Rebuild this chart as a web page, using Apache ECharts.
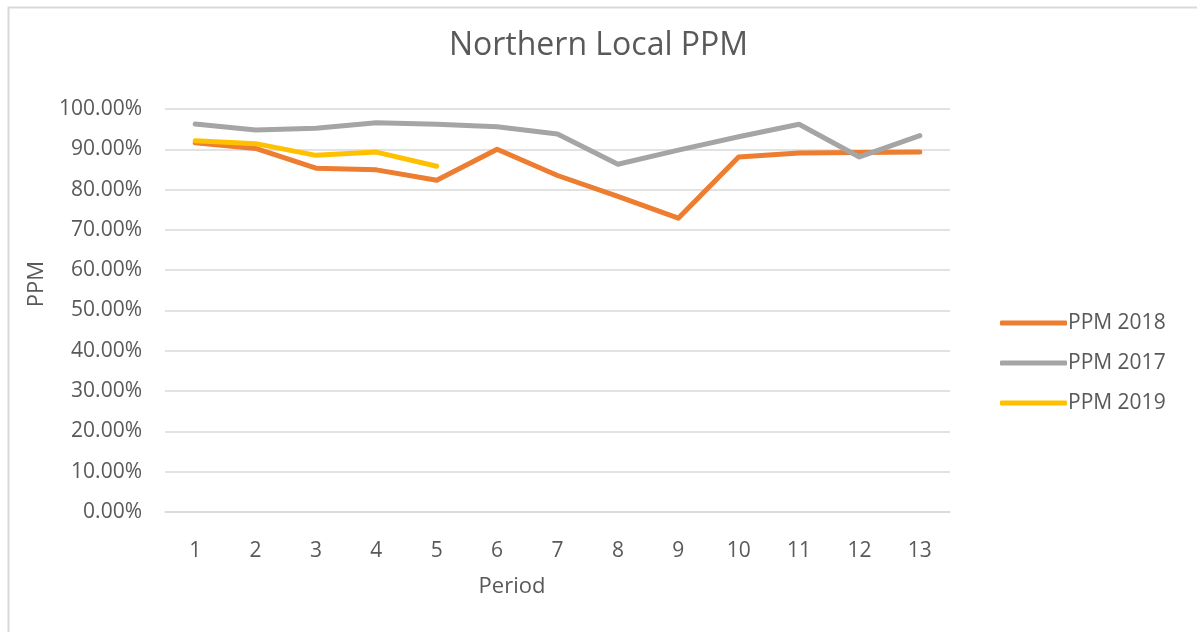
<!DOCTYPE html>
<html>
<head>
<meta charset="utf-8">
<script src="https://cdn.jsdelivr.net/npm/echarts@6/dist/echarts.min.js"></script>
<style>
html,body{margin:0;padding:0;background:#fff;}
#chart{width:1197px;height:632px;}
</style>
</head>
<body>
<div id="chart"></div>
<script>
const periods = ['1','2','3','4','5','6','7','8','9','10','11','12','13'];
const ppm2018 = [91.6, 90.2, 85.3, 84.9, 82.3, 90.0, 83.5, 78.3, 72.9, 88.1, 89.1, 89.2, 89.3];
const ppm2017 = [96.3, 94.8, 95.2, 96.6, 96.2, 95.6, 93.8, 86.3, 89.8, 93.1, 96.2, 88.1, 93.4];
const ppm2019 = [92.1, 91.4, 88.5, 89.3, 85.8];
const yTicks = [0, 10, 20, 30, 40, 50, 60, 70, 80, 90, 100];

const FONT = '"Open Sans", "Liberation Sans", sans-serif';
const TXT = '#595959';
const chart = echarts.init(document.getElementById('chart'), null, {renderer: 'canvas'});

function lineSeries(name, data, color) {
  return {
    name: name, type: 'line', data: data, showSymbol: false, symbol: 'none',
    lineStyle: {color: color, width: 5, cap: 'round', join: 'round'},
    itemStyle: {color: color}, animation: false
  };
}

chart.setOption({
  backgroundColor: '#fff',
  animation: false,
  textStyle: {fontFamily: FONT},
  graphic: [{
    type: 'rect', left: 6, top: 5, shape: {width: 1300, height: 800},
    style: {fill: 'none', stroke: '#d9d9d9', lineWidth: 2}, silent: true
  }, {
    type: 'text', x: 512, y: 587, silent: true,
    style: {text: 'Period', fontFamily: FONT, fontSize: 22, fill: TXT, align: 'center', verticalAlign: 'middle'}
  }, {
    type: 'text', x: 37, y: 284, rotation: Math.PI / 2, silent: true,
    style: {text: 'PPM', fontFamily: FONT, fontSize: 22, fill: TXT, align: 'center', verticalAlign: 'middle'}
  }],
  title: {
    text: 'Northern Local PPM', left: 'center', top: 25,
    textStyle: {fontFamily: FONT, fontSize: 32, fontWeight: 'normal', color: TXT}
  },
  legend: {
    orient: 'vertical', left: 995, top: 307,
    itemWidth: 67, itemHeight: 5, itemGap: 18, icon: 'roundRect',
    textStyle: {fontFamily: FONT, fontSize: 21, lineHeight: 22, color: TXT, padding: [0,0,0,-4]},
    data: ['PPM 2018', 'PPM 2017', 'PPM 2019']
  },
  grid: {left: 165, right: 247, top: 109, bottom: 120, containLabel: false},
  xAxis: {
    type: 'category', data: periods, boundaryGap: true,
    axisLine: {lineStyle: {color: '#d9d9d9', width: 1.5}},
    axisTick: {show: false},
    axisLabel: {fontFamily: FONT, fontSize: 21, color: TXT, margin: 29}
  },
  yAxis: {
    type: 'value', min: 0, max: 100, interval: 10,
    axisLine: {show: false}, axisTick: {show: false},
    splitLine: {lineStyle: {color: '#d9d9d9', width: 1.5}},
    axisLabel: {fontFamily: FONT, fontSize: 21, color: TXT, margin: 23,
      formatter: v => yTicks.includes(v) ? v.toFixed(2) + '%' : ''}
  },
  series: [
    lineSeries('PPM 2018', ppm2018, '#ED7D31'),
    lineSeries('PPM 2017', ppm2017, '#A5A5A5'),
    lineSeries('PPM 2019', ppm2019, '#FFC000')
  ]
});
</script>
</body>
</html>
